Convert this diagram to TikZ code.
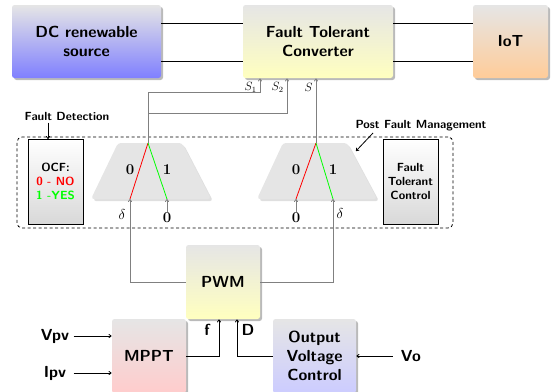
\documentclass[tikz,border=0pt]{standalone}
\usepackage{fontspec}
\usetikzlibrary{shadows,arrows.meta}
\newcommand\bigfont{\fontsize{16}{19}\selectfont\sffamily\bfseries}
\newcommand\smallfont{\fontsize{11.8}{14}\selectfont\sffamily\bfseries}
\newcommand\digfont{\fontsize{15}{18}\selectfont\rmfamily\bfseries}
\newcommand\dfont{\fontsize{14}{16}\selectfont}
\newcommand\sfont{\fontsize{11.5}{13}\selectfont}
\begin{document}
\begin{tikzpicture}[x=1pt,y=-1pt,line width=0.8pt,>={To[length=3pt,width=4pt]},
  blk/.style={rectangle, rounded corners=2.5pt, inner sep=0pt, align=center, font=\bigfont,
    drop shadow={shadow xshift=2pt, shadow yshift=-2pt, opacity=0.45, fill=black!60}},
  sidebox/.style={draw, rectangle, inner sep=0pt, align=center, font=\smallfont,
    top color=white, bottom color=black!15, minimum width=55pt, minimum height=85pt},
  trap/.style={fill=black!10, rounded corners=3pt,
    drop shadow={shadow xshift=2pt, shadow yshift=-2pt, opacity=0.25, fill=black!50}},
  gl/.style={draw=gray, line width=0.8pt},
  lbl/.style={font=\bigfont, inner sep=2pt},
  slbl/.style={font=\smallfont, inner sep=2pt},
  dig/.style={font=\digfont, inner sep=1pt}]
\useasboundingbox (0,0) rectangle (551,391);

% top blocks
\node[blk, top color=black!10, bottom color=blue!50, minimum width=149pt, minimum height=73pt] (dc) at (86.5,41.5) {DC renewable\\source};
\node[blk, top color=black!10, bottom color=yellow!25, minimum width=150pt, minimum height=73pt] (ftc) at (318,41.5) {Fault Tolerant\\Converter};
\node[blk, top color=black!10, bottom color=orange!40, minimum width=75pt, minimum height=73pt] (iot) at (510.5,41.5) {IoT};

\draw (dc.east |- 0,23) -- (ftc.west |- 0,23);
\draw (dc.east |- 0,61) -- (ftc.west |- 0,61);
\draw (ftc.east |- 0,23) -- (iot.west |- 0,23);
\draw (ftc.east |- 0,61) -- (iot.west |- 0,61);

% post fault management region
\node[draw, dash pattern=on 3pt off 2.5pt, rounded corners=5pt, minimum width=436pt, minimum height=91pt, inner sep=0pt] (pfmbox) at (235,182.5) {};
\node[sidebox] (ocf) at (55.5,181.5) {OCF:\\\textcolor{red}{0 - NO}\\\textcolor{green}{1 -YES}};
\node[sidebox] (ftcl) at (410.5,181.5) {Fault\\Tolerant\\Control};

% trapezoids
\fill[trap] (91,199) -- (118,143) -- (182,143) -- (211,199) -- cycle;
\fill[trap] (257,199) -- (283,143) -- (347,143) -- (377,199) -- cycle;
\coordinate (a1) at (148,143);
\coordinate (r1) at (130,199);
\coordinate (g1) at (167,199);
\coordinate (a2) at (316,143);
\coordinate (r2) at (296,199);
\coordinate (g2) at (333,199);
\draw[red] (a1) -- (r1);
\draw[green] (a1) -- (g1);
\draw[red] (a2) -- (r2);
\draw[green] (a2) -- (g2);
\node[dig] (t10) at (130,170) {0};
\node[dig] (t11) at (167,170) {1};
\node[dig] (t20) at (296,170) {0};
\node[dig] (t21) at (333,170) {1};

% switching signals to converter
\draw[gl,->] (a1) -- ++(0,-51) -| ([xshift=-58pt]ftc.south);
\draw[gl,->] (a1) -- ++(0,-30) -| ([xshift=-31pt]ftc.south);
\draw[gl,->] (a2) -- ([xshift=-2pt]ftc.south);
\node[font=\sfont, anchor=east, inner sep=1pt] (s1l) at (258,87) {$S_1$};
\node[font=\sfont, anchor=east, inner sep=1pt] (s2l) at (285,87) {$S_2$};
\node[font=\sfont, anchor=east, inner sep=1pt] (sl) at (314,87) {$S$};

% labels
\node[slbl] (fd) at (67,116) {Fault Detection};
\coordinate (fdt) at (48,139);
\draw[->] (fdt |- fd.south) -- (fdt);
\node[slbl] (pfm) at (421,126) {Post Fault Management};
\coordinate (pfa) at (373,133);
\coordinate (pfb) at (356,151);
\draw[->] (pfa) -- (pfb);

% PWM
\node[blk, top color=black!10, bottom color=yellow!25, minimum width=74pt, minimum height=74pt] (pwm) at (223,282) {PWM};
\draw[gl,->] (pwm.west) -| (r1);
\draw[gl,->] (pwm.east) -| (g2);
\node[font=\dfont, inner sep=1pt] (d1) at (122,214) {$\delta$};
\node[font=\dfont, inner sep=1pt] (d2) at (340,213) {$\delta$};
\node[dig] (z1) at (167,218) {0};
\node[dig] (z2) at (296,218) {0};
\draw[gl,->] (z1.north) -- (g1);
\draw[gl,->] (z2.north) -- (r2);

% bottom blocks
\node[blk, top color=black!10, bottom color=red!20, minimum width=74pt, minimum height=74pt] (mppt) at (149,356) {MPPT};
\node[blk, top color=black!10, bottom color=blue!20, minimum width=83pt, minimum height=74pt] (ovc) at (314.5,356) {Output\\Voltage\\Control};
\draw[->] (mppt.east) -| ([xshift=-4pt]pwm.south);
\draw[->] (ovc.west) -| ([xshift=14pt]pwm.south);
\node[lbl] (fl) at (207,330) {f};
\node[lbl] (dl) at (248,330) {D};
\node[lbl] (vo) at (411,356) {Vo};
\draw[->] ([xshift=-6pt]vo.west) -- (ovc.east);
\node[lbl] (vpv) at (55,336) {Vpv};
\node[lbl] (ipv) at (55,373) {Ipv};
\draw[->] ([xshift=2pt]vpv.east) -- (vpv.east -| mppt.west);
\draw[->] ([xshift=2pt]vpv.east |- ipv.east) -- (ipv.east -| mppt.west);
\end{tikzpicture}
\end{document}
